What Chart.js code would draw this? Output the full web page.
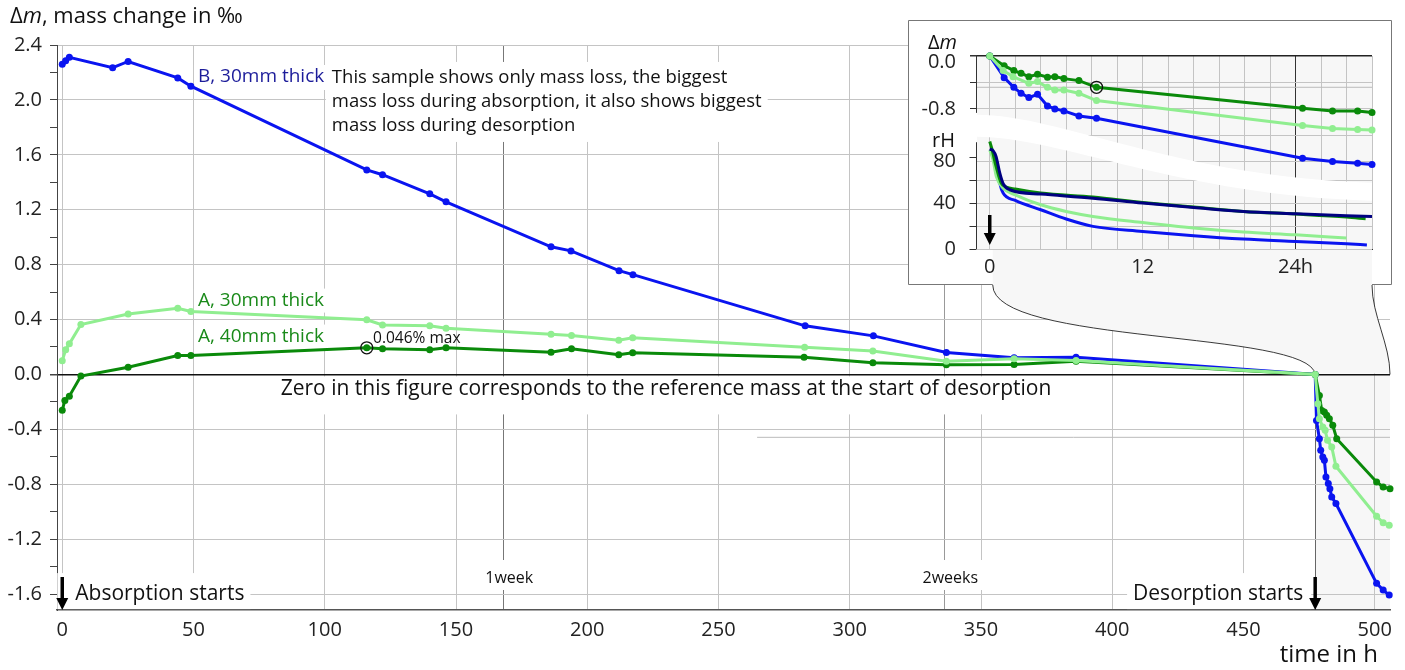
<!DOCTYPE html>
<html>
<head>
<meta charset="utf-8">
<title>Mass change during absorption and desorption</title>
<script src="https://cdn.jsdelivr.net/npm/chart.js@4.4.0/dist/chart.umd.min.js"></script>
<style>
  html, body { margin: 0; padding: 0; background: #fff; }
  #wrap { position: relative; width: 1405px; height: 670px; overflow: hidden; }
  #mainChart { position: absolute; left: 0; top: 0; }
  #insetChart { position: absolute; left: 908px; top: 20px; }
</style>
</head>
<body>
<div id="wrap">
  <canvas id="mainChart" width="1405" height="670"></canvas>
  <canvas id="insetChart" width="484" height="265"></canvas>
</div>
<script>
// ---- main chart data: time in h, mass change in per mille ----
const hoursB = [0, 1.3, 2.7, 19.2, 25.1, 44, 49, 116, 122, 140, 146.2, 186.2, 193.8, 212.1, 217.4, 283, 309, 336.8, 362.6, 386.2, 477.3,
  477.8, 478.9, 479.4, 480.2, 480.8, 481.4, 482.3, 482.9, 483.6, 485.2, 500.7, 503.2, 505.5];
const massB = [2.26, 2.285, 2.31, 2.235, 2.28, 2.16, 2.10, 1.49, 1.455, 1.316, 1.258, 0.93, 0.90, 0.756, 0.727, 0.354, 0.281, 0.16, 0.121, 0.126, 0.0,
  -0.335, -0.468, -0.553, -0.601, -0.625, -0.747, -0.795, -0.832, -0.892, -0.94, -1.522, -1.571, -1.607];

const hoursA30 = [0, 1.3, 2.7, 7.1, 25.1, 44, 49, 116, 122, 140, 146.2, 186.2, 194, 212, 217.3, 282.8, 308.8, 336.8, 362.6, 386.2, 477.3,
  478.3, 478.9, 480.2, 481.1, 482, 483.6, 485.2, 500.7, 503.2, 505.5];
const massA30 = [0.10, 0.18, 0.223, 0.364, 0.44, 0.482, 0.458, 0.398, 0.361, 0.354, 0.337, 0.293, 0.284, 0.25, 0.267, 0.199, 0.17, 0.097, 0.114, 0.102, 0.0,
  -0.213, -0.322, -0.383, -0.407, -0.48, -0.528, -0.669, -1.033, -1.081, -1.098];

const hoursA40 = [0, 1, 2.7, 7.1, 25.1, 44, 49, 116, 122, 140, 146.2, 186.2, 194, 212, 217.3, 282.6, 308.8, 336.8, 362.6, 386.2, 477.3,
  478.9, 479.8, 480.8, 481.7, 482.7, 484, 485.5, 500.7, 503.2, 505.8];
const massA40 = [-0.26, -0.19, -0.158, -0.012, 0.053, 0.138, 0.138, 0.194, 0.187, 0.18, 0.194, 0.162, 0.187, 0.143, 0.158, 0.126, 0.085, 0.07, 0.073, 0.097, 0.0,
  -0.153, -0.262, -0.274, -0.298, -0.322, -0.371, -0.468, -0.783, -0.82, -0.832];

const maxHourA40 = [116];
const maxMassA40 = [0.194];
const levelHours = [264.7, 505.8];
const levelMass = [-0.458, -0.458];

const desorptionStart = 477.3;
const weekHours = [168, 336];
const weekLabels = ["1week", "2weeks"];

const xTickValues = [0, 50, 100, 150, 200, 250, 300, 350, 400, 450, 500];
const yTickValues = [-1.6, -1.4, -1.2, -1.0, -0.8, -0.6, -0.4, -0.2, 0, 0.2, 0.4, 0.6, 0.8, 1.0, 1.2, 1.4, 1.6, 1.8, 2.0, 2.2, 2.4];

// ---- inset data: first 30 h of desorption ----
const insetHoursA40 = [0, 1.13, 1.89, 2.46, 3.07, 3.75, 4.53, 5.11, 5.82, 7.0, 8.38, 24.55, 26.9, 28.87, 30];
const insetMassA40 = [0, -0.146, -0.221, -0.262, -0.312, -0.277, -0.322, -0.312, -0.342, -0.372, -0.473, -0.79, -0.83, -0.83, -0.855];
const insetHoursA30 = [0, 1.05, 1.83, 3.07, 3.75, 4.53, 5.11, 5.82, 7.0, 8.38, 24.55, 26.9, 28.87, 30];
const insetMassA30 = [0, -0.221, -0.312, -0.413, -0.387, -0.473, -0.513, -0.513, -0.564, -0.674, -1.052, -1.097, -1.112, -1.117];
const insetHoursB = [0, 1.13, 1.89, 2.46, 3.07, 3.75, 4.53, 5.11, 5.82, 7.0, 8.38, 24.55, 26.9, 28.87, 30];
const insetMassB = [0, -0.327, -0.473, -0.564, -0.629, -0.579, -0.755, -0.8, -0.83, -0.906, -0.941, -1.545, -1.595, -1.62, -1.64];
const insetMaxHour = [8.38];
const insetMaxMass = [-0.473];

const rhHoursA40 = [0, 0.15, 0.5, 0.9, 1.3, 2, 4, 8.1, 12, 16, 19.9, 24, 28, 29.5];
const rhA40 = [93.6, 88, 71.9, 57.4, 54, 52.2, 48.7, 45.2, 40.5, 36.5, 32.7, 30.4, 27.8, 26.3];
const rhHoursRef = [0, 0.26, 0.5, 0.79, 1.05, 1.57, 4, 8.1, 12, 16, 19.9, 24, 28, 30];
const rhRef = [87, 85.7, 80.5, 66, 57, 51.6, 47.8, 44.3, 40, 36.2, 32.7, 30.7, 29, 28.4];
const rhHoursA30 = [0, 0.26, 0.52, 1.05, 2, 4, 6, 8.1, 12, 16, 19.9, 24, 28];
const rhA30 = [86.3, 77.7, 63.1, 53, 47.2, 38.5, 32.7, 28.4, 23.1, 18.3, 14.8, 12.4, 9.6];
const rhHoursB = [0, 0.26, 0.52, 0.79, 1.05, 2, 4, 6, 8.1, 12, 16, 19.9, 24, 28, 29.6];
const rhB = [86.3, 84.9, 76.2, 57.4, 48.7, 42.3, 34.2, 26.1, 19.7, 15.3, 11.6, 8.7, 6.6, 4.6, 3.5];

const insetHourTicks = [0, 2, 4, 6, 8, 10, 12, 14, 16, 18, 20, 22, 24, 26, 28, 30];
const insetHourLabels = { 0: "0", 12: "12", 24: "24h" };
const insetMassTicks = [0, -0.4, -0.8, -1.2, -1.6];
const insetMassLabels = [0, -0.8];
const rhTicks = [0, 20, 40, 60, 80];
const rhLabels = [0, 40, 80];
const rhGrid = [0, 20, 40, 60];

const INSET_LEFT = 908;
const INSET_TOP = 20;

const BLUE = "#0a14f0";
const GREEN = "#0a8a0a";
const LIGHT = "#90ee90";
const NAVY = "#000080";
const GRID = "#c4c4c4";
const FONT = "'Open Sans', 'Noto Sans', sans-serif";

const toPoints = (xs, ys) => xs.map((x, i) => ({ x: x, y: ys[i] }));

function series(label, xs, ys, color, axis) {
  return {
    label: label,
    data: toPoints(xs, ys),
    borderColor: color,
    backgroundColor: color,
    borderWidth: 3,
    pointRadius: 3.5,
    pointHoverRadius: 3.5,
    pointBorderWidth: 0,
    yAxisID: axis,
    clip: false,
  };
}

function circleMarker(xs, ys, axis) {
  return {
    label: "max",
    data: toPoints(xs, ys),
    showLine: false,
    pointRadius: 6,
    pointHoverRadius: 6,
    pointBackgroundColor: "rgba(0,0,0,0)",
    pointBorderColor: "#111",
    pointBorderWidth: 1.3,
    yAxisID: axis,
    clip: false,
  };
}

// text with optional white box behind it
function note(ctx, text, px, py, o) {
  ctx.font = (o.style || "") + " " + o.size + "px " + FONT;
  const w = ctx.measureText(text).width;
  let left = px;
  if (o.align === "right") left = px - w;
  if (o.align === "center") left = px - w / 2;
  if (o.pad) {
    const p = o.pad;
    ctx.fillStyle = "#fff";
    ctx.fillRect(left - p[3], py - p[0], w + p[1] + p[3], p[0] + p[2]);
  }
  ctx.fillStyle = o.color || "#111";
  ctx.textAlign = "left";
  ctx.textBaseline = "middle";
  ctx.fillText(text, left, py);
  return { left: left, width: w };
}

// text made of parts in different fonts (italic m)
function rich(ctx, parts, px, py, align) {
  let total = 0;
  parts.forEach((p) => { ctx.font = p[1]; total += ctx.measureText(p[0]).width; });
  let cx = align === "right" ? px - total : px;
  ctx.fillStyle = "#111";
  ctx.textAlign = "left";
  ctx.textBaseline = "middle";
  parts.forEach((p) => { ctx.font = p[1]; ctx.fillText(p[0], cx, py); cx += ctx.measureText(p[0]).width; });
}

function arrow(ctx, px, top, tip) {
  ctx.save();
  ctx.fillStyle = "#000";
  ctx.strokeStyle = "#000";
  ctx.lineWidth = 3.5;
  ctx.beginPath();
  ctx.moveTo(px, top);
  ctx.lineTo(px, tip - 10);
  ctx.stroke();
  ctx.beginPath();
  ctx.moveTo(px - 6, tip - 12);
  ctx.lineTo(px + 6, tip - 12);
  ctx.lineTo(px, tip);
  ctx.closePath();
  ctx.fill();
  ctx.restore();
}

// ---- inset chart ----
const insetDecor = {
  id: "insetDecor",
  beforeDraw(chart) {
    const { ctx, chartArea: a, width, height, scales } = chart;
    const gx = scales.x.getPixelForValue(0) + 3;
    ctx.save();
    ctx.fillStyle = "#fff";
    ctx.fillRect(0, 0, width, height);
    ctx.fillStyle = "#f7f7f7";
    ctx.fillRect(a.left, a.top, a.right - a.left, a.bottom - a.top);
    ctx.fillRect(gx, a.bottom, a.right - gx, height - a.bottom);
    // frame, open where the connector leaves the inset
    ctx.strokeStyle = "#777";
    ctx.lineWidth = 1;
    ctx.beginPath();
    ctx.moveTo(gx, height - 0.5);
    ctx.lineTo(0.5, height - 0.5);
    ctx.lineTo(0.5, 0.5);
    ctx.lineTo(width - 0.5, 0.5);
    ctx.lineTo(width - 0.5, height - 0.5);
    ctx.lineTo(a.right, height - 0.5);
    ctx.stroke();
    ctx.restore();
  },
  beforeDatasetsDraw(chart) {
    const { ctx, chartArea: a, scales } = chart;
    const yR = scales.yR;
    ctx.save();
    ctx.strokeStyle = GRID;
    ctx.lineWidth = 1;
    rhGrid.forEach((v) => {
      const py = Math.round(yR.getPixelForValue(v)) + 0.5;
      ctx.beginPath();
      ctx.moveTo(a.left, py);
      ctx.lineTo(a.right, py);
      ctx.stroke();
    });
    // white break between the mass panel and the rH panel
    const w = a.right - a.left;
    const h = a.bottom - a.top;
    ctx.fillStyle = "#fff";
    ctx.beginPath();
    ctx.moveTo(a.left, a.top + 0.305 * h);
    ctx.bezierCurveTo(a.left + 0.21 * w, a.top + 0.305 * h, a.left + 0.514 * w, a.top + 0.631 * h, a.right, a.top + 0.657 * h);
    ctx.lineTo(a.right, a.top + 0.75 * h);
    ctx.bezierCurveTo(a.left + 0.514 * w, a.top + 0.724 * h, a.left + 0.21 * w, a.top + 0.419 * h, a.left, a.top + 0.419 * h);
    ctx.closePath();
    ctx.fill();
    ctx.restore();
  },
  afterDraw(chart) {
    const { ctx, chartArea: a, scales } = chart;
    const yM = scales.yM;
    const yR = scales.yR;
    ctx.save();
    ctx.strokeStyle = "#333";
    ctx.lineWidth = 1;
    const ax = Math.round(a.left) - 0.5;
    ctx.beginPath();
    ctx.moveTo(ax, yM.getPixelForValue(0));
    ctx.lineTo(ax, yM.getPixelForValue(-0.86));
    ctx.moveTo(ax, yR.getPixelForValue(93));
    ctx.lineTo(ax, yR.getPixelForValue(0));
    rhTicks.forEach((v) => {
      const py = Math.round(yR.getPixelForValue(v)) + 0.5;
      ctx.moveTo(ax - 7, py);
      ctx.lineTo(ax, py);
    });
    ctx.stroke();
    // tick labels of both panels; the top ones sit a little below their tick
    insetMassLabels.forEach((v) => {
      note(ctx, v.toFixed(1), a.left - 21, yM.getPixelForValue(v) + (v === 0 ? 6 : 0), { size: 20, align: "right", color: "#222" });
    });
    rhLabels.forEach((v) => {
      note(ctx, String(v), a.left - 21, yR.getPixelForValue(v) + (v === 80 ? 4 : 0), { size: 20, align: "right", color: "#222" });
    });
    rich(ctx, [["\u0394", "20px " + FONT], ["m", "italic 20px " + FONT]], a.left - 20, a.top - 13, "right");
    rich(ctx, [["rH", "20px " + FONT]], a.left - 22, yR.getPixelForValue(94), "right");
    arrow(ctx, scales.x.getPixelForValue(0), a.bottom - 34, a.bottom - 4);
    ctx.restore();
  },
};

const insetChart = new Chart(document.getElementById("insetChart"), {
  type: "line",
  data: {
    datasets: [
      circleMarker(insetMaxHour, insetMaxMass, "yM"),
      series("A, 30mm thick", insetHoursA30, insetMassA30, LIGHT, "yM"),
      series("A, 40mm thick", insetHoursA40, insetMassA40, GREEN, "yM"),
      series("B, 30mm thick", insetHoursB, insetMassB, BLUE, "yM"),
      Object.assign(series("rH reference", rhHoursRef, rhRef, NAVY, "yR"), { pointRadius: 0, cubicInterpolationMode: "monotone" }),
      Object.assign(series("rH A, 40mm", rhHoursA40, rhA40, GREEN, "yR"), { pointRadius: 0, cubicInterpolationMode: "monotone" }),
      Object.assign(series("rH A, 30mm", rhHoursA30, rhA30, LIGHT, "yR"), { pointRadius: 0, cubicInterpolationMode: "monotone" }),
      Object.assign(series("rH B, 30mm", rhHoursB, rhB, BLUE, "yR"), { pointRadius: 0, cubicInterpolationMode: "monotone" }),
      {
        label: "max level",
        data: toPoints([-1, 30], [insetMaxMass[0], insetMaxMass[0]]),
        borderColor: "#bbb",
        borderWidth: 1,
        pointRadius: 0,
        yAxisID: "yM",
      },
    ],
  },
  options: {
    responsive: false,
    animation: false,
    events: [],
    layout: { padding: { left: 0, top: 36, right: 20, bottom: 0 } },
    plugins: { legend: { display: false }, tooltip: { enabled: false } },
    scales: {
      x: {
        type: "linear",
        min: -1,
        max: 30,
        afterBuildTicks: (s) => { s.ticks = insetHourTicks.map((v) => ({ value: v })); },
        afterFit: (s) => { s.height = 36; },
        ticks: {
          autoSkip: false,
          maxRotation: 0,
          padding: 6,
          color: "#222",
          font: { family: FONT, size: 20 },
          callback: (v) => insetHourLabels[v] || "",
        },
        grid: {
          drawTicks: false,
          color: (c) => (c.tick && c.tick.value === 24 ? "#333" : GRID),
        },
        border: { color: "#333" },
      },
      yM: {
        type: "linear",
        position: "left",
        min: -2.918,
        max: 0,
        afterBuildTicks: (s) => { s.ticks = insetMassTicks.map((v) => ({ value: v })); },
        afterFit: (s) => { s.width = 69; },
        ticks: {
          autoSkip: false,
          padding: 14,
          font: { family: FONT, size: 20 },
          callback: () => "",
        },
        grid: {
          tickLength: 7,
          color: (c) => (c.tick && c.tick.value === 0 ? "#222" : GRID),
          lineWidth: (c) => (c.tick && c.tick.value === 0 ? 1.5 : 1),
          tickColor: (c) => (c.tick && c.tick.value < -0.85 ? "rgba(0,0,0,0)" : "#333"),
        },
        border: { display: false },
      },
      yR: {
        type: "linear",
        display: false,
        min: 0,
        max: 168.1,
      },
    },
  },
  plugins: [insetDecor],
});

// ---- main chart ----
const mainDecor = {
  id: "mainDecor",
  beforeDraw(chart) {
    const { ctx, chartArea: a, scales: { x, y } } = chart;
    const dx = x.getPixelForValue(desorptionStart);
    const zy = y.getPixelForValue(0);
    ctx.save();
    ctx.fillStyle = "#fff";
    ctx.fillRect(0, 0, chart.width, chart.height);
    ctx.fillStyle = "#f7f7f7";
    ctx.fillRect(dx, zy, a.right - dx, a.bottom - zy);
    ctx.restore();
  },
  beforeDatasetsDraw(chart) {
    const { ctx, chartArea: a, scales: { x, y } } = chart;
    const dx = x.getPixelForValue(desorptionStart);
    const zy = y.getPixelForValue(0);
    ctx.save();

    // connector between the desorption period and the inset
    const ia = insetChart.chartArea;
    const lx = INSET_LEFT + insetChart.scales.x.getPixelForValue(0) + 3;
    const rx = INSET_LEFT + ia.right;
    const top = INSET_TOP + insetChart.height;
    ctx.fillStyle = "#f7f7f7";
    ctx.beginPath();
    ctx.moveTo(lx, top);
    ctx.bezierCurveTo(lx, top + 60, dx - 5, top + 45, dx, zy - 1);
    ctx.lineTo(a.right, zy - 1);
    ctx.bezierCurveTo(a.right, zy - 30, rx, top + 30, rx, top);
    ctx.closePath();
    ctx.fill();
    ctx.strokeStyle = "#222";
    ctx.lineWidth = 0.9;
    ctx.beginPath();
    ctx.moveTo(lx, top);
    ctx.bezierCurveTo(lx, top + 60, dx - 5, top + 45, dx, zy);
    ctx.moveTo(a.right, zy);
    ctx.bezierCurveTo(a.right, zy - 30, rx, top + 30, rx, top);
    ctx.stroke();

    // labels
    note(ctx, "B, 30mm thick", x.getPixelForValue(51.7), y.getPixelForValue(2.167), { size: 19, color: "#1c1c9a", pad: [12, 4, 13, 4] });
    const para = [
      "This sample shows only mass loss, the biggest",
      "mass loss during absorption, it also shows biggest",
      "mass loss during desorption",
    ];
    const px = x.getPixelForValue(102.7);
    const py = y.getPixelForValue(2.16);
    ctx.font = "18.5px " + FONT;
    const pw = Math.max(...para.map((t) => ctx.measureText(t).width));
    ctx.fillStyle = "#fff";
    ctx.fillRect(px - 6, py - 16, pw + 12, 24 * 2 + 32);
    para.forEach((t, i) => note(ctx, t, px, py + 24 * i, { size: 18.5 }));

    note(ctx, "A, 30mm thick", x.getPixelForValue(51.7), y.getPixelForValue(0.538), { size: 19, color: "#1a8a1a", pad: [12, 4, 12, 4] });
    note(ctx, "A, 40mm thick", x.getPixelForValue(51.7), y.getPixelForValue(0.276), { size: 19, color: "#1a8a1a", pad: [12, 4, 12, 4] });
    note(ctx, "0.046% max", x.getPixelForValue(118.4), y.getPixelForValue(0.262), { size: 15.5 });
    note(ctx, "Zero in this figure corresponds to the reference mass at the start of desorption",
      x.getPixelForValue(230), y.getPixelForValue(-0.109), { size: 21, align: "center", pad: [13, 8, 25, 8] });
    weekHours.forEach((h, i) => {
      note(ctx, weekLabels[i], x.getPixelForValue(h) + 6, a.bottom - 32, { size: 16, align: "center", pad: [18, 4, 12, 4] });
    });
    note(ctx, "Absorption starts", x.getPixelForValue(0) + 13, y.getPixelForValue(-1.6), { size: 21, pad: [21, 6, 15, 18] });
    note(ctx, "Desorption starts", dx - 12, y.getPixelForValue(-1.6), { size: 21, align: "right", pad: [21, 8, 15, 6] });
    ctx.restore();
  },
  afterDatasetsDraw(chart) {
    const { ctx, chartArea: a, scales: { x } } = chart;
    arrow(ctx, x.getPixelForValue(0), a.bottom - 33, a.bottom);
    arrow(ctx, x.getPixelForValue(desorptionStart), a.bottom - 33, a.bottom);
  },
  afterDraw(chart) {
    const { ctx, chartArea: a } = chart;
    ctx.save();
    rich(ctx, [["\u0394", "22px " + FONT], ["m", "italic 22px " + FONT], [", mass change in \u2030", "22px " + FONT]], 10, 17, "left");
    rich(ctx, [["time in h", "24px " + FONT]], a.right - 12, 655, "right");
    ctx.restore();
  },
};

const mainXGrid = xTickValues.concat(weekHours, [desorptionStart]).sort((p, q) => p - q);

new Chart(document.getElementById("mainChart"), {
  type: "line",
  data: {
    datasets: [
      circleMarker(maxHourA40, maxMassA40, "y"),
      series("A, 30mm thick", hoursA30, massA30, LIGHT, "y"),
      series("A, 40mm thick", hoursA40, massA40, GREEN, "y"),
      series("B, 30mm thick", hoursB, massB, BLUE, "y"),
      {
        label: "level",
        data: toPoints(levelHours, levelMass),
        borderColor: "#bbb",
        borderWidth: 1,
        pointRadius: 0,
        yAxisID: "y",
      },
    ],
  },
  options: {
    responsive: false,
    animation: false,
    events: [],
    layout: { padding: { left: 0, top: 45, right: 15, bottom: 0 } },
    plugins: { legend: { display: false }, tooltip: { enabled: false } },
    scales: {
      x: {
        type: "linear",
        min: -2,
        max: 505.8,
        afterBuildTicks: (s) => { s.ticks = mainXGrid.map((v) => ({ value: v })); },
        afterFit: (s) => { s.height = 60; },
        ticks: {
          autoSkip: false,
          maxRotation: 0,
          padding: 8,
          color: "#222",
          font: { family: FONT, size: 20 },
          callback: (v) => (xTickValues.includes(v) ? String(v) : ""),
        },
        grid: {
          drawTicks: false,
          color: (c) => {
            const v = c.tick ? c.tick.value : null;
            if (v === desorptionStart) return "#666";
            if (v === weekHours[0]) return "#777";
            if (v === weekHours[1]) return "#999";
            return GRID;
          },
        },
        border: { color: "#555", width: 1.5 },
      },
      y: {
        type: "linear",
        min: -1.716,
        max: 2.4,
        afterBuildTicks: (s) => { s.ticks = yTickValues.map((v) => ({ value: v })); },
        afterFit: (s) => { s.width = 57; },
        ticks: {
          autoSkip: false,
          padding: 8,
          color: "#222",
          font: { family: FONT, size: 20 },
          callback: (v) => (Math.round(v * 10) % 4 === 0 ? v.toFixed(1) : ""),
        },
        grid: {
          tickLength: 7,
          color: (c) => {
            const v = c.tick ? c.tick.value : 1;
            if (v === 0) return "#111";
            return Math.round(v * 10) % 4 === 0 ? GRID : "rgba(0,0,0,0)";
          },
          lineWidth: (c) => (c.tick && c.tick.value === 0 ? 1.5 : 1),
          tickColor: "#444",
        },
        border: { color: "#444" },
      },
    },
  },
  plugins: [mainDecor],
});
</script>
</body>
</html>
